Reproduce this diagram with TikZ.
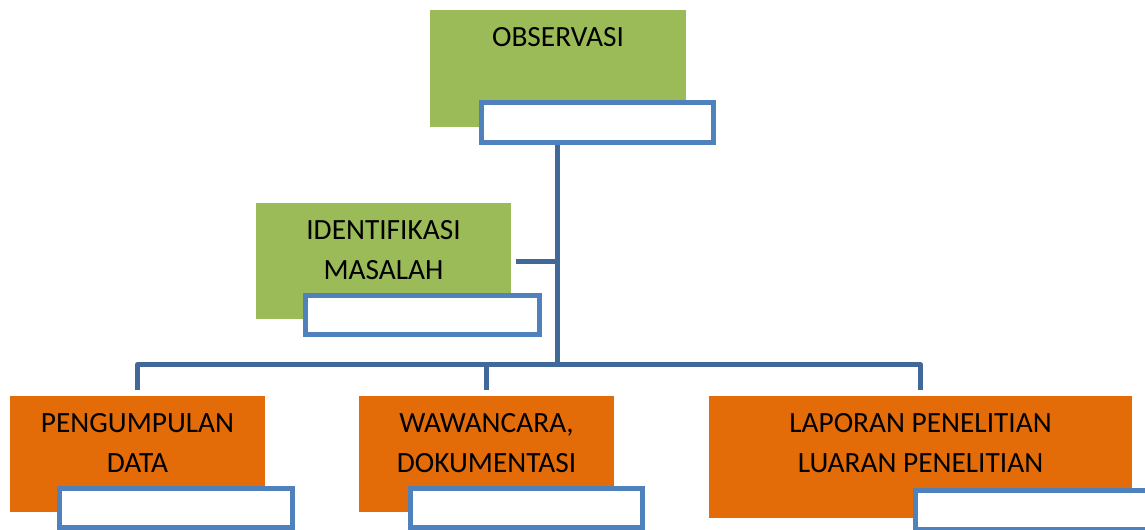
\documentclass[tikz,border=0pt]{standalone}
\usepackage{fontspec}
\setmainfont{Carlito}
\usepackage{xcolor}
\usetikzlibrary{positioning}
\definecolor{bagangreen}{RGB}{155, 187, 89}
\definecolor{baganorange}{RGB}{227, 108, 9}
\definecolor{baganblue}{RGB}{79, 129, 189}
\definecolor{bagandark}{RGB}{64, 104, 152}

\tikzset{
  greenbox/.style={fill=bagangreen, draw=none, inner sep=0pt},
  orangebox/.style={fill=baganorange, draw=none, inner sep=0pt},
  whitebox/.style={fill=white, draw=baganblue, line width=0.1cm, inner sep=0pt, minimum height=0.78cm},
  boxtext/.style={inner sep=0pt, align=center, text=black, font=\fontsize{16.7}{22.8}\selectfont},
  connector/.style={draw=bagandark, line width=0.1cm, line join=round}
}

\begin{document}
\begin{tikzpicture}[x=0.02cm, y=-0.02cm]
\clip (0,0) rectangle (1145,530);

% top
\node[greenbox, minimum width=5.12cm, minimum height=2.34cm] (observasi) at (558,68.5) {};
\node[boxtext, below=0.345cm of observasi.north] (observasitext) {OBSERVASI};
\node[whitebox, minimum width=4.64cm, minimum height=0.8cm] (observasibox) at (597.5,122.5) {};

% middle
\node[greenbox, minimum width=5.1cm, minimum height=2.32cm] (identifikasi) at (383.5,261) {};
\node[boxtext, below=0.345cm of identifikasi.north] (identifikasitext) {IDENTIFIKASI\\MASALAH};
\node[whitebox, minimum width=4.68cm] (identifikasibox) at (422.5,315) {};

% bottom row
\node[orangebox, minimum width=5.1cm, minimum height=2.32cm] (pengumpulan) at (137.5,454) {};
\node[boxtext, below=0.345cm of pengumpulan.north] (pengumpulantext) {PENGUMPULAN\\DATA};
\node[whitebox, minimum width=4.66cm] (pengumpulanbox) at (176,508) {};

\node[orangebox, minimum width=5.1cm, minimum height=2.32cm] (wawancara) at (486.5,454) {};
\node[boxtext, below=0.345cm of wawancara.north] (wawancaratext) {WAWANCARA,\\DOKUMENTASI};
\node[whitebox, minimum width=4.64cm] (wawancarabox) at (526.5,508) {};

\node[orangebox, minimum width=8.46cm, minimum height=2.44cm] (laporan) at (920.5,457) {};
\node[boxtext, below=0.345cm of laporan.north] (laporantext) {LAPORAN PENELITIAN\\LUARAN PENELITIAN};
\node[whitebox, minimum width=4.66cm] (laporanbox) at (1032,510) {};

% connectors
\coordinate (bus) at (557.5,364.5);
\draw[connector] (bus |- observasibox.south) -- (bus);
\draw[connector, shorten <=0.1cm] (identifikasi.east) -- (identifikasi.east -| bus);
\draw[connector, shorten <=0.12cm, shorten >=0.12cm] (pengumpulan.north) |- (bus) -| (laporan.north);
\draw[connector, shorten <=0.12cm] (wawancara.north) -- (wawancara.north |- bus);
\end{tikzpicture}
\end{document}
